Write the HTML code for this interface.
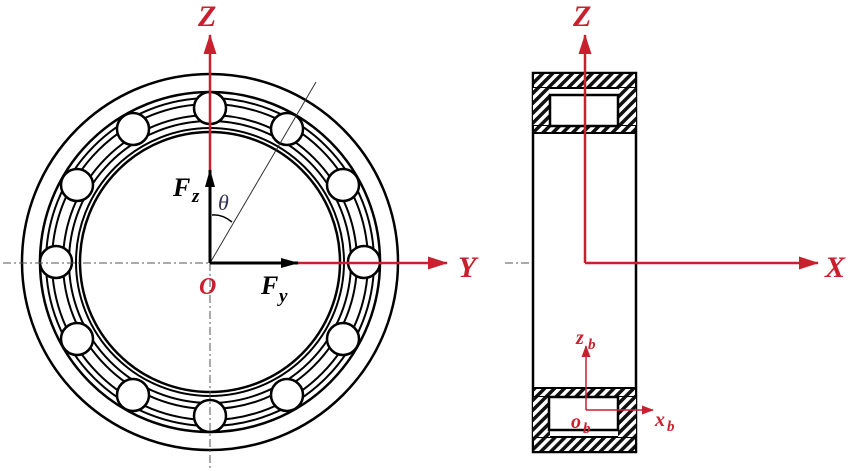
<!DOCTYPE html>
<html><head><style>body{margin:0;background:#fff}svg{display:block}</style></head><body>
<svg width="850" height="471" viewBox="0 0 850 471" xmlns="http://www.w3.org/2000/svg" font-family="Liberation Serif, serif">
<defs>
<pattern id="h" width="7" height="7" patternUnits="userSpaceOnUse" patternTransform="rotate(45)">
<rect width="7" height="7" fill="#fff"/><rect x="0" width="3.5" height="7" fill="#111"/></pattern>
<marker id="ar" markerWidth="12" markerHeight="9" refX="11" refY="4.5" orient="auto" markerUnits="userSpaceOnUse"><path d="M0,0L12,4.5L0,9z" fill="#c8202e"/></marker>
<marker id="ab" markerWidth="18" markerHeight="10" refX="17" refY="5" orient="auto" markerUnits="userSpaceOnUse"><path d="M0,0L18,5L0,10z" fill="#000"/></marker>
<marker id="ar2" markerWidth="20" markerHeight="13" refX="19" refY="6.5" orient="auto" markerUnits="userSpaceOnUse"><path d="M0,0L20,6.5L0,13z" fill="#c8202e"/></marker>
</defs>
<g fill="none" stroke="#000">
<circle cx="210" cy="262" r="188" stroke-width="2.5"/>
<circle cx="210" cy="262" r="170" stroke-width="2.5"/>
<circle cx="210" cy="262" r="164" stroke-width="2"/>
<circle cx="210" cy="262" r="158" stroke-width="2"/>
<circle cx="210" cy="262" r="147" stroke-width="2"/>
<circle cx="210" cy="262" r="141" stroke-width="2"/>
<circle cx="210" cy="262" r="134" stroke-width="2"/>
<circle cx="210" cy="262" r="130" stroke-width="2.5"/>
</g>
<g fill="#fff" stroke="#000" stroke-width="2.5">
<circle cx="210" cy="108" r="16"/><circle cx="287" cy="129" r="16"/><circle cx="343" cy="185" r="16"/>
<circle cx="364" cy="262" r="16"/><circle cx="343" cy="339" r="16"/><circle cx="287" cy="395" r="16"/>
<circle cx="210" cy="416" r="16"/><circle cx="133" cy="395" r="16"/><circle cx="77" cy="339" r="16"/>
<circle cx="56" cy="262" r="16"/><circle cx="77" cy="185" r="16"/><circle cx="133" cy="129" r="16"/>
</g>
<g stroke="#555" stroke-width="1" stroke-dasharray="8,3,2,3">
<line x1="3" y1="263" x2="210" y2="263"/><line x1="210" y1="263" x2="210" y2="471"/>
<line x1="505" y1="263" x2="585" y2="263"/>
</g>
<line x1="210" y1="263" x2="316" y2="82" stroke="#333" stroke-width="1"/>
<line x1="210" y1="263" x2="210" y2="35" stroke="#c8202e" stroke-width="2.5" marker-end="url(#ar2)"/>
<line x1="210" y1="263" x2="447" y2="263" stroke="#c8202e" stroke-width="2.5" marker-end="url(#ar2)"/>
<line x1="210" y1="263" x2="210" y2="170" stroke="#000" stroke-width="3" marker-end="url(#ab)"/>
<line x1="210" y1="263" x2="298" y2="263" stroke="#000" stroke-width="3" marker-end="url(#ab)"/>
<path d="M212,215 Q222,214 232,222" fill="none" stroke="#000" stroke-width="1.5"/>
<g font-style="italic" font-weight="bold" fill="#c8202e" font-size="30">
<text x="198" y="26">Z</text><text x="458" y="277">Y</text><text x="199" y="294" font-size="24">O</text>
<text x="573" y="26">Z</text><text x="825" y="277">X</text><text x="569" y="294" font-size="24">O</text>
</g>
<g font-style="italic" font-weight="bold" fill="#000">
<text x="173" y="196" font-size="26">F</text><text x="192" y="202" font-size="19">z</text>
<text x="261" y="294" font-size="26">F</text><text x="279" y="302" font-size="19">y</text>
</g>
<text x="218" y="210" font-style="italic" font-size="22" fill="#335">θ</text>
<!-- right -->
<rect x="533" y="73" width="103" height="379" fill="#fff" stroke="#000" stroke-width="2.5"/>
<rect x="533" y="73" width="103" height="15" fill="url(#h)" stroke="#000" stroke-width="2"/>
<rect x="533" y="125" width="103" height="8" fill="url(#h)" stroke="#000" stroke-width="2"/>
<rect x="533" y="88" width="17" height="37" fill="url(#h)"/><rect x="618" y="88" width="18" height="37" fill="url(#h)"/>
<rect x="550" y="95" width="68" height="31" fill="#fff" stroke="#000" stroke-width="2.5"/>
<rect x="533" y="437" width="103" height="15" fill="url(#h)" stroke="#000" stroke-width="2"/>
<rect x="533" y="388" width="103" height="9" fill="url(#h)" stroke="#000" stroke-width="2"/>
<rect x="533" y="397" width="17" height="40" fill="url(#h)"/><rect x="618" y="397" width="18" height="40" fill="url(#h)"/>
<rect x="549" y="397" width="69" height="33" fill="#fff" stroke="#000" stroke-width="2.5"/>
<line x1="585" y1="263" x2="585" y2="35" stroke="#c8202e" stroke-width="2.5" marker-end="url(#ar2)"/>
<line x1="585" y1="263" x2="818" y2="263" stroke="#c8202e" stroke-width="2.5" marker-end="url(#ar2)"/>
<line x1="586" y1="410" x2="586" y2="346" stroke="#c8202e" stroke-width="1.5" marker-end="url(#ar)"/>
<line x1="586" y1="410" x2="653" y2="410" stroke="#c8202e" stroke-width="1.5" marker-end="url(#ar)"/>
<g font-style="italic" font-weight="bold" fill="#c8202e">
<text x="576" y="344" font-size="20">z</text><text x="588" y="349" font-size="15">b</text>
<text x="571" y="428" font-size="20">o</text><text x="583" y="433" font-size="15">b</text>
<text x="655" y="426" font-size="20">x</text><text x="667" y="431" font-size="15">b</text>
</g>
</svg>
</body></html>
